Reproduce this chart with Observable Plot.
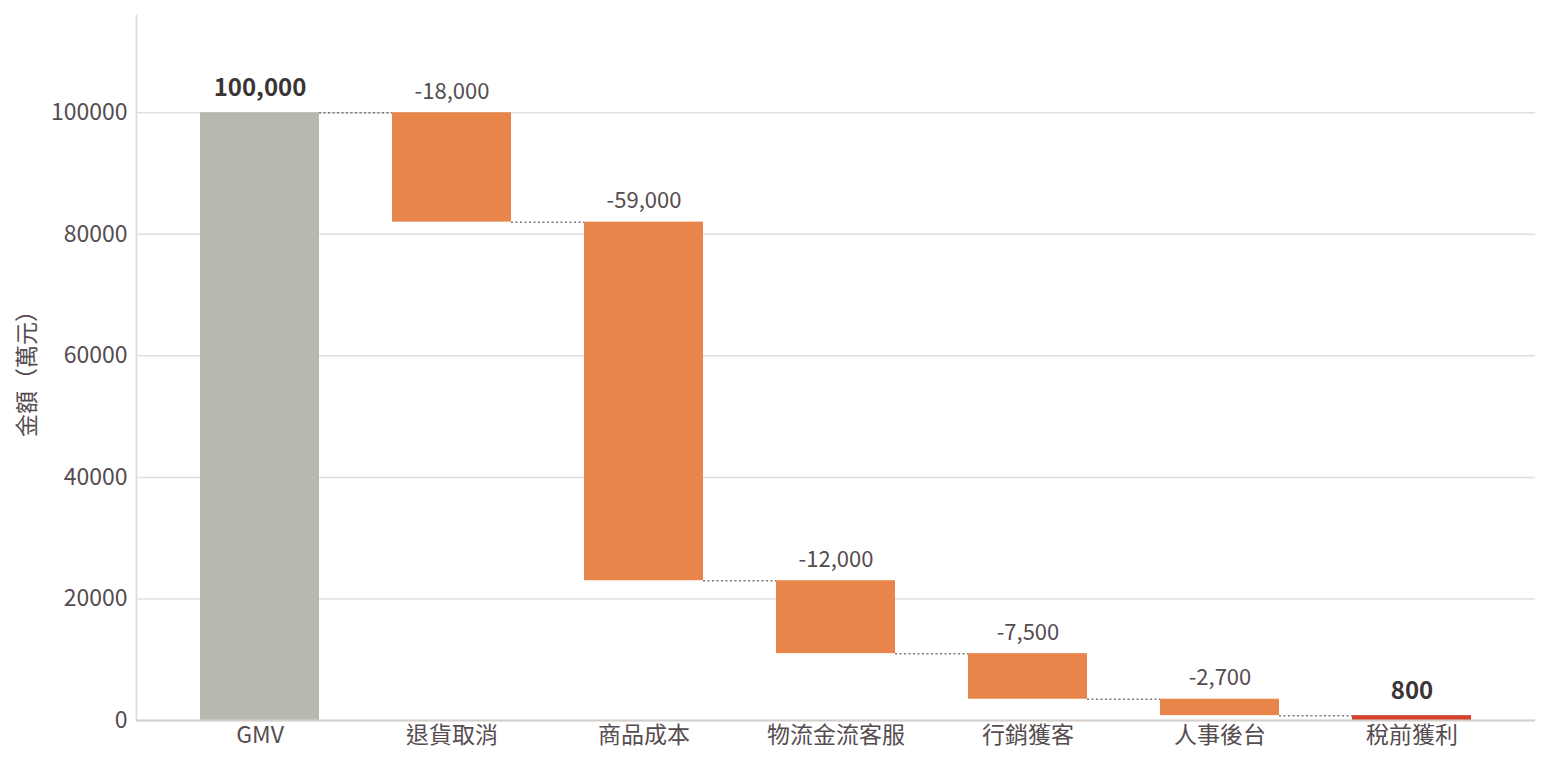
<!DOCTYPE html>
<html>
<head>
<meta charset="utf-8">
<script src="https://cdn.jsdelivr.net/npm/d3@7"></script>
<script src="https://cdn.jsdelivr.net/npm/@observablehq/plot@0.6"></script>
<style>
  html, body { margin: 0; padding: 0; background: #fff; }
  #chart svg { display: block; }
</style>
</head>
<body>
<div id="chart"></div>
<script>
// Data
const categories = ["GMV", "退貨取消", "商品成本", "物流金流客服", "行銷獲客", "人事後台", "稅前獲利"];
const values = [100000, -18000, -59000, -12000, -7500, -2700, 800];
const kinds = ["總額", "成本", "成本", "成本", "成本", "成本", "獲利"];
const yTicks = [0, 20000, 40000, 60000, 80000, 100000];
const yLabel = "金額（萬元）";

// Build waterfall table
let running = 0;
const rows = categories.map((c, i) => {
  let start, end;
  if (kinds[i] === "成本") { start = running; end = running + values[i]; running = end; }
  else { start = 0; end = values[i]; running = end; }
  return {cat: c, value: values[i], kind: kinds[i], start, end, top: Math.max(start, end),
          label: (values[i] < 0 ? "-" : "") + Math.abs(values[i]).toLocaleString("en-US")};
});
const connectors = rows.slice(0, -1).map((r, i) => ({from: r.cat, to: rows[i + 1].cat, level: r.end}));

const font = "'Noto Sans CJK TC', 'Noto Sans', sans-serif";
const chart = Plot.plot({
  width: 1552,
  height: 768,
  marginLeft: 136,
  marginRight: 17,
  marginTop: 15,
  marginBottom: 48,
  style: {fontFamily: font, fontSize: "23px", color: "#554c50", background: "#fff"},
  x: {domain: categories, paddingInner: 0.38, paddingOuter: 0.333},
  y: {domain: [0, 116000]},
  color: {domain: ["總額", "成本", "獲利"], range: ["#b7b9b1", "#e8854a", "#d3432e"]},
  marks: [
    Plot.gridY(yTicks, {stroke: "#e2dfda", strokeOpacity: 1, strokeWidth: 1.5}),
    Plot.frame({anchor: "left", stroke: "#e2dfda", strokeWidth: 2}),
    Plot.axisY(yTicks, {tickSize: 0, tickPadding: 9, fontSize: 23, fill: "#554c50", tickFormat: d => String(d),
      label: yLabel, labelAnchor: "center", labelArrow: "none", labelOffset: 118}),
    Plot.axisX({tickSize: 0, tickPadding: 6, fontSize: 23, fill: "#554c50", label: null}),
    Plot.ruleY(connectors, {x1: "from", x2: "to", y: "level", stroke: "#7a7a7a",
      strokeWidth: 1.5, strokeDasharray: "2,2.5", insetLeft: 119, insetRight: 119}),
    Plot.barY(rows, {x: "cat", y1: "start", y2: "end", fill: "kind"}),
    Plot.ruleY([0], {stroke: "#d3cfca", strokeWidth: 2}),
    Plot.text(rows.filter(r => r.kind !== "成本"), {x: "cat", y: "top", text: "label", dy: -24,
      fontWeight: "bold", fontSize: 24, fill: "#3b3436", lineAnchor: "middle"}),
    Plot.text(rows.filter(r => r.kind === "成本"), {x: "cat", y: "top", text: "label", dy: -21,
      fontSize: 22, fill: "#554c50", lineAnchor: "middle"})
  ]
});
document.getElementById("chart").appendChild(chart);
</script>
</body>
</html>
